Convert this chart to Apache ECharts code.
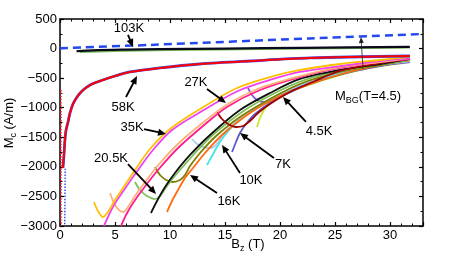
<!DOCTYPE html>
<html><head><meta charset="utf-8">
<script src="https://cdn.jsdelivr.net/npm/echarts@6/dist/echarts.min.js"></script>
<style>html,body{margin:0;padding:0;background:#fff}#c{width:460px;height:262px}</style>
</head><body><div id="c"></div>
<script>
const FONT = '"Liberation Sans", Arial, Helvetica, sans-serif';

// ---- tick labels ----
const xTickLabels = [0, 5, 10, 15, 20, 25, 30];
const yTickLabels = [500, 0, -500, -1000, -1500, -2000, -2500, -3000];

// ---- data (B_z in T, M_c in A/m) ----
const mBG = [[0, 5], [8.2, 62], [22.7, 172], [33, 247]];
const k103 = [[1.5, -45], [3, -30], [6, -18], [9, -10], [15, 0], [22, 12], [31.8, 30]];
const k103b = [[1.8, -60], [5, -42], [10, -25], [20, -5], [31.8, 18]];
const k58 = [[0.27, -2019], [0.36, -1799], [0.45, -1546], [0.55, -1377], [0.73, -1242], [0.91, -1089],
  [1.18, -937], [1.55, -819], [2.0, -717], [2.73, -616], [3.64, -548], [5.0, -464], [6.36, -396],
  [9.09, -328], [12.7, -261], [17.3, -210], [22.7, -159], [31.8, -126]];
const k58redDots = [[0.09, -700], [0.09, -3000]];
const k58blueDots = [[0.47, -2030], [0.43, -3000]];

const cYellow = [[3.09, -2594], [3.45, -2746], [3.91, -2848], [4.36, -2763], [5.0, -2560], [5.91, -2307],
  [6.82, -2053], [8.18, -1698], [10.0, -1360], [12.73, -1022], [16.09, -667], [19.09, -481],
  [21.82, -362], [25.45, -261], [29.09, -193], [31.82, -142]];
const cMagenta = [[4.0, -3000], [4.36, -2848], [4.91, -2645], [5.82, -2391], [7.09, -2053], [8.45, -1715],
  [10.18, -1377], [12.91, -1056], [16.18, -717], [19.09, -531], [21.82, -396], [25.45, -295],
  [29.09, -210], [31.82, -159]];
const cPeach = [[4.55, -2442], [4.91, -2611], [5.27, -2713], [5.73, -2763], [6.18, -2679], [6.82, -2493],
  [7.73, -2256], [9.09, -1935], [10.91, -1580], [13.18, -1225], [15.27, -937], [18.18, -667],
  [21.82, -464], [25.45, -312], [29.09, -227], [31.82, -159]];
const cPink = [[5.55, -3000], [6.0, -2814], [6.64, -2611], [7.55, -2374], [8.91, -2053], [10.73, -1681],
  [13.0, -1309], [15.18, -988], [18.18, -700], [21.82, -481], [25.45, -328], [29.09, -227], [31.82, -176]];
const cBlack = [[8.27, -2780], [8.82, -2577], [9.55, -2341], [10.45, -2104], [11.82, -1799], [13.64, -1461],
  [16.36, -1039], [19.09, -751], [21.82, -514], [25.45, -362], [29.09, -261], [31.82, -176]];
const cLightGreen = [[6.82, -2256], [7.27, -2391], [7.91, -2493], [8.64, -2543], [9.09, -2493], [9.55, -2374],
  [10.0, -2256], [10.91, -2053], [12.27, -1766], [14.09, -1428], [16.82, -1039], [19.55, -751],
  [22.27, -531], [25.45, -379], [29.09, -261], [31.82, -193]];
const cOlive = [[8.64, -2002], [9.09, -2138], [9.64, -2222], [10.27, -2256], [10.91, -2222], [11.36, -2138],
  [11.82, -1986], [12.73, -1766], [14.09, -1495], [16.36, -1157], [19.09, -852], [21.82, -599],
  [25.45, -396], [29.09, -278], [31.82, -193]];
const cOrange = [[9.73, -2763], [10.18, -2577], [10.73, -2391], [11.36, -2188], [12.09, -2019], [13.18, -1766],
  [14.73, -1461], [17.27, -1089], [20.0, -802], [22.73, -599], [25.91, -413], [29.09, -278], [31.82, -193]];
const cLightBlue = [[12.0, -1529], [12.45, -1613], [13.0, -1664], [13.64, -1681], [14.09, -1647], [14.45, -1563],
  [15.0, -1411], [16.36, -1191], [18.18, -954], [20.91, -684], [23.64, -498], [26.36, -362],
  [29.09, -278], [31.82, -210]];
const cCyan = [[13.36, -1969], [13.82, -1816], [14.27, -1664], [14.73, -1529], [15.45, -1360], [16.82, -1140],
  [18.64, -903], [21.36, -650], [24.09, -481], [26.82, -362], [29.55, -261], [31.82, -210]];
const cDarkRed = [[14.27, -1072], [14.73, -1191], [15.27, -1275], [16.0, -1326], [16.64, -1309], [17.27, -1225],
  [18.0, -1089], [19.09, -937], [20.91, -734], [23.18, -548], [25.45, -379], [28.64, -261], [31.82, -176]];
const cSlate = [[15.64, -1749], [16.0, -1580], [16.36, -1428], [16.91, -1275], [17.73, -1106], [19.09, -920],
  [21.36, -700], [24.09, -514], [26.82, -379], [29.55, -278], [31.82, -210]];
const cPurple = [[17.09, -667], [17.45, -785], [17.91, -870], [18.45, -903], [19.09, -887], [19.82, -819],
  [20.91, -717], [22.73, -582], [25.45, -430], [28.18, -312], [31.82, -227]];
const cYellowGreen = [[17.91, -1326], [18.18, -1174], [18.55, -1039], [19.09, -903], [20.0, -802],
  [21.82, -666], [24.55, -498], [28.18, -328], [31.82, -227]];

// ---- annotations (data coordinates) ----
const annoText = ['103K', '58K', '35K', '27K', '20.5K', '16K', '10K', '7K', '4.5K'];
const annoAt = [[6.27, 348], [5.73, -988], [6.55, -1326], [12.36, -565], [4.64, -1850], [15.36, -2577], [17.36, -2222], [20.27, -1952], [23.55, -1394]];
const annoFrom = [[6.18, 230], [6.0, -819], [7.64, -1360], [13.36, -684], [6.18, -1952], [14.27, -2442], [16.36, -2104], [19.45, -1850], [22.36, -1241]];
const annoTo = [[6.64, 27], [7.0, -464], [9.64, -1444], [15.09, -920], [8.73, -2459], [11.82, -2138], [14.73, -1630], [16.36, -1428], [20.27, -819]];
const bgAt = [25.0, -802], bgFrom = [27.55, -345], bgTo = [27.36, 196];

const chart = echarts.init(document.getElementById('c'), null, {renderer: 'canvas'});

function ln(data, color, width, z, type) {
  return {type: 'line', data, showSymbol: false, symbol: 'none', smooth: 0.3, z: z || 2, silent: true,
    lineStyle: {color, width: width || 1.8, type: type || 'solid'}, animation: false};
}
const labStyle = {color: '#000', fontSize: 13, fontFamily: FONT};
const fmt = v => String(v).replace('-', '\u2212');

const option = {
  animation: false,
  grid: {left: 60, right: 37, top: 19, bottom: 36},
  xAxis: [
    {type: 'value', min: 0, max: 33, interval: 5,
      axisLine: {onZero: false, lineStyle: {color: '#000', width: 1.5}},
      axisTick: {inside: true, length: 4, lineStyle: {color: '#000', width: 1.2}},
      minorTick: {show: true, splitNumber: 5, length: 2.5, lineStyle: {color: '#000', width: 1}},
      splitLine: {show: false},
      axisLabel: Object.assign({margin: 3, showMaxLabel: false,
        formatter: v => (xTickLabels.indexOf(v) >= 0 ? fmt(v) : '')}, labStyle)},
    {type: 'value', position: 'top', min: 0, max: 33, interval: 5,
      axisLine: {onZero: false, lineStyle: {color: '#000', width: 1.5}},
      axisTick: {inside: true, length: 4, lineStyle: {color: '#000', width: 1.2}},
      minorTick: {show: true, splitNumber: 5, length: 2.5, lineStyle: {color: '#000', width: 1}},
      splitLine: {show: false}, axisLabel: {show: false}}
  ],
  yAxis: [
    {type: 'value', min: -3000, max: 500, interval: 500,
      axisLine: {show: true, onZero: false, lineStyle: {color: '#000', width: 1.5}},
      axisTick: {show: true, inside: true, length: 4, lineStyle: {color: '#000', width: 1.2}},
      minorTick: {show: true, splitNumber: 2, length: 2.5, lineStyle: {color: '#000', width: 1}},
      splitLine: {show: false},
      axisLabel: Object.assign({margin: 3,
        formatter: v => (yTickLabels.indexOf(v) >= 0 ? fmt(v) : '')}, labStyle)},
    {type: 'value', position: 'right', min: -3000, max: 500, interval: 500,
      axisLine: {show: true, onZero: false, lineStyle: {color: '#000', width: 1.5}},
      axisTick: {show: true, inside: true, length: 4, lineStyle: {color: '#000', width: 1.2}},
      minorTick: {show: true, splitNumber: 2, length: 2.5, lineStyle: {color: '#000', width: 1}},
      splitLine: {show: false}, axisLabel: {show: false}}
  ],
  series: [
    ln(cYellowGreen, '#C8E628'),
    ln(cPurple, '#8C50E0'),
    ln(cSlate, '#5A5ACC'),
    ln(cCyan, '#40E6E6'),
    ln(cLightBlue, '#A8CCF0'),
    ln(cOrange, '#FF6A10'),
    ln(cOlive, '#7F7F00'),
    ln(cLightGreen, '#7DC05A'),
    ln(cBlack, '#101010'),
    ln(cDarkRed, '#A00000'),
    ln(cPink, '#FF1C8C'),
    ln(cPeach, '#FFB07A'),
    ln(cMagenta, '#F040F0'),
    ln(cYellow, '#FFC000'),
    ln(k58redDots, '#FF2020', 1.5, 3, 'dotted'),
    ln(k58blueDots, '#3050F0', 1.5, 3, 'dotted'),
    ln(k58, '#3050F0', 2.8, 3),
    ln(k58, '#FF0000', 2, 4),
    ln(k103b, '#7DC05A', 2, 4),
    ln(k103, '#0A0A1E', 2.2, 5),
    ln(mBG, '#2448F0', 2.5, 6, [8, 5])
  ]
};
chart.setOption(option);

const cvs = document.createElement('canvas').getContext('2d');
function tw(t, size) { cvs.font = size + 'px ' + FONT; return cvs.measureText(t).width; }
function txtEl(t, size, x, y, align) {
  return {type: 'text', x, y, silent: true, style: {text: t, font: size + 'px ' + FONT, fill: '#000',
    align: align || 'center', textAlign: align || 'center', verticalAlign: 'middle', textVerticalAlign: 'middle'}};
}
function subText(parts, x, y, rot, align) {
  const total = parts.reduce((s, p) => s + tw(p[0], p[1]), 0);
  let cx = align === 'center' ? -total / 2 : 0;
  const children = parts.map(p => { const el = txtEl(p[0], p[1], cx, p[2], 'left'); cx += tw(p[0], p[1]); return el; });
  return {type: 'group', x, y, rotation: rot || 0, children};
}
function arrow(from, to, width, hl, hw, color) {
  const a = chart.convertToPixel({xAxisIndex: 0, yAxisIndex: 0}, from);
  const b = chart.convertToPixel({xAxisIndex: 0, yAxisIndex: 0}, to);
  const dx = b[0] - a[0], dy = b[1] - a[1], L = Math.hypot(dx, dy), ux = dx / L, uy = dy / L;
  const bx = b[0] - ux * hl, by = b[1] - uy * hl;
  return [
    {type: 'line', silent: true, z: 20, shape: {x1: a[0], y1: a[1], x2: bx + ux, y2: by + uy}, style: {stroke: color, lineWidth: width}},
    {type: 'polygon', silent: true, z: 20, shape: {points: [[b[0], b[1]], [bx - uy * hw, by + ux * hw], [bx + uy * hw, by - ux * hw]]}, style: {fill: color}}
  ];
}
const g = [];
annoText.forEach((t, i) => {
  const p = chart.convertToPixel({xAxisIndex: 0, yAxisIndex: 0}, annoAt[i]);
  g.push(Object.assign(txtEl(t, 13, p[0], p[1]), {z: 20}));
  arrow(annoFrom[i], annoTo[i], 1.8, 8, 3.5, '#000').forEach(e => g.push(e));
});
const bp = chart.convertToPixel({xAxisIndex: 0, yAxisIndex: 0}, bgAt);
g.push(Object.assign(subText([['M', 13, 0], ['BG', 9, 5], ['(T=4.5)', 13, 0]], bp[0], bp[1], 0, 'left'), {z: 20}));
arrow(bgFrom, bgTo, 0.8, 6, 2.5, '#222').forEach(e => g.push(e));
g.push(subText([['M', 13, 0], ['c', 9, 5], [' (A/m)', 13, 0]], 9, 123, Math.PI / 2, 'center'));
g.push(subText([['B', 13, 0], ['z', 9, 5], [' (T)', 13, 0]], 248, 244, 0, 'center'));
chart.setOption({graphic: g});
</script>
</body></html>
